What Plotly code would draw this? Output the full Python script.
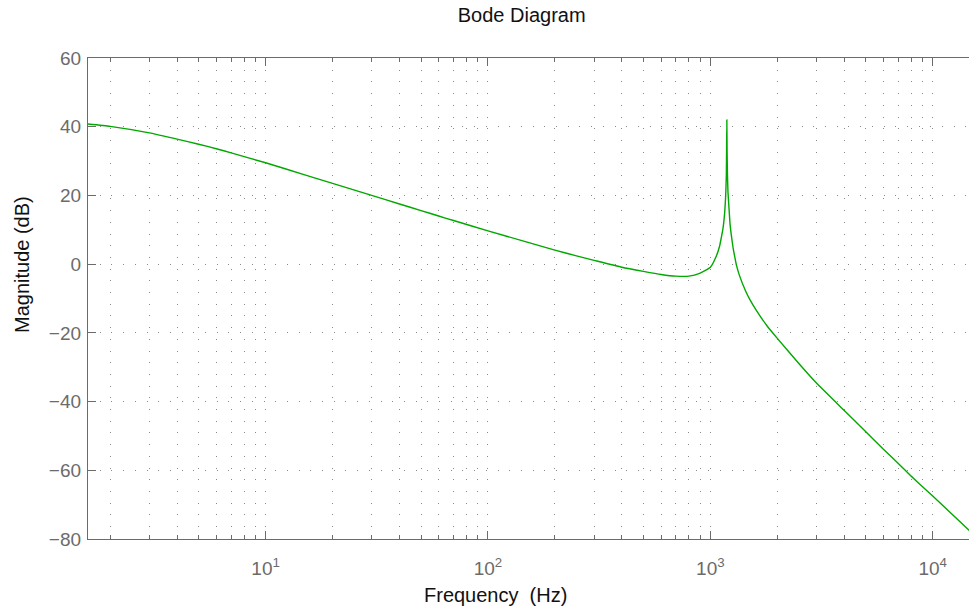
import plotly.graph_objects as go

# Frequency (Hz) and magnitude (dB)
freq_hz = [1.58, 2, 3, 4, 5, 6, 7, 10, 15, 20, 30, 40, 50, 60, 70, 100, 150, 200,
           250, 300, 400, 500, 600, 700, 800, 900, 1000, 1063, 1100, 1120, 1140,
           1160, 1172, 1180, 1183, 1186, 1189, 1193, 1200, 1211, 1225, 1242, 1265,
           1285, 1310, 1350, 1440, 1500, 1607, 1800, 2000, 2500, 3000, 4000, 5000,
           6000, 7000, 8000, 9000, 10000, 14600]
mag_db = [40.8, 40.1, 38.2, 36.4, 34.9, 33.6, 32.4, 29.5, 26.0, 23.5, 20.0, 17.5,
          15.6, 14.0, 12.7, 9.7, 6.4, 4.1, 2.4, 1.1, -0.9, -2.1, -3.0, -3.5, -3.5,
          -2.6, -0.9, 2.3, 5.2, 7.7, 10.4, 15.0, 20.0, 26.0, 33.0, 42.0, 33.0, 27.0,
          21.0, 17.0, 12.0, 8.5, 4.8, 2.4, -0.3, -3.2, -7.8, -10.1, -13.4, -18.0,
          -21.6, -28.9, -34.6, -42.6, -48.8, -53.9, -58.0, -61.7, -64.8, -67.5, -77.5]

x_major = [10, 100, 1000, 10000]
x_major_text = ["10<sup>1</sup>", "10<sup>2</sup>", "10<sup>3</sup>", "10<sup>4</sup>"]
x_minor = [m * 10 ** k for k in range(0, 5) for m in range(2, 10)]
y_ticks = [60, 40, 20, 0, -20, -40, -60, -80]
y_tick_text = ["60", "40", "20", "0", "\u221220", "\u221240", "\u221260", "\u221280"]

AX = "#6b6b6b"
GRID = "#8a8a8a"
DASH = "1px,10.7px"
FONT = "Liberation Sans, Arial, sans-serif"

fig = go.Figure()
fig.add_trace(go.Scatter(x=freq_hz, y=mag_db, mode="lines",
                         line=dict(color="#00a800", width=1.4, shape="spline",
                                   smoothing=0.4),
                         hoverinfo="skip"))

fig.update_layout(
    width=969, height=609,
    margin=dict(l=88, r=0, t=58, b=70),
    paper_bgcolor="white", plot_bgcolor="white",
    showlegend=False,
    font=dict(family=FONT, size=19, color=AX),
    title=dict(text="Bode Diagram", x=521.7 / 969, xref="container", xanchor="center",
               y=1 - 15 / 609, yref="container", yanchor="middle",
               font=dict(family=FONT, size=20, color="#111")),
)

fig.update_xaxes(
    type="log", range=[0.2015, 4.163],
    tickmode="array", tickvals=x_major, ticktext=x_major_text,
    ticks="inside", ticklen=8, tickcolor=AX, tickwidth=1,
    showline=True, linecolor=AX, linewidth=1.3, mirror="ticks",
    showgrid=True, gridcolor=GRID, gridwidth=1, griddash=DASH,
    zeroline=False,
    tickfont=dict(family=FONT, size=19, color=AX),
    ticklabelstandoff=12,
    minor=dict(tickmode="array", tickvals=x_minor, ticks="inside", ticklen=4,
               tickcolor=AX, tickwidth=1, showgrid=True, gridcolor=GRID,
               gridwidth=1, griddash=DASH),
)
fig.update_yaxes(
    range=[-80, 60],
    tickmode="array", tickvals=y_ticks, ticktext=y_tick_text,
    ticks="inside", ticklen=8, tickcolor=AX, tickwidth=1,
    showline=True, linecolor=AX, linewidth=1.3, mirror=False,
    showgrid=True, gridcolor=GRID, gridwidth=1, griddash=DASH,
    zeroline=False,
    tickfont=dict(family=FONT, size=19, color=AX),
    ticklabelstandoff=2,
)

fig.add_annotation(text="Frequency  (Hz)", xref="paper", yref="paper",
                   x=(495 - 88) / 881, y=(539 - 595) / 481, xanchor="center",
                   yanchor="middle", showarrow=False,
                   font=dict(family=FONT, size=20, color="#111"))
fig.add_annotation(text="Magnitude (dB)", xref="paper", yref="paper",
                   x=(22 - 88) / 881, y=(539 - 265) / 481, xanchor="center",
                   yanchor="middle", textangle=-90, showarrow=False,
                   font=dict(family=FONT, size=20, color="#111"))

fig.write_html("out.html")
